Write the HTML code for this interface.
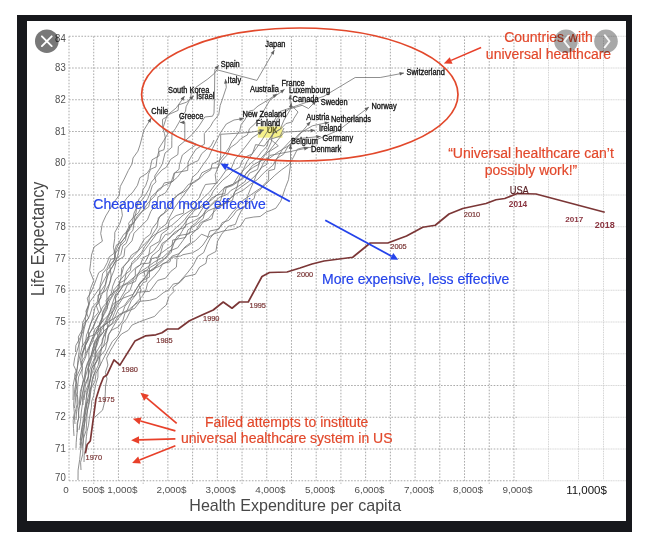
<!DOCTYPE html>
<html><head><meta charset="utf-8"><title>chart</title>
<style>
html,body{margin:0;padding:0;background:#fff;}
body{width:648px;height:545px;overflow:hidden;position:relative;font-family:"Liberation Sans",sans-serif;}
#frame{position:absolute;left:17px;top:15px;width:615px;height:517px;background:#17181c;}
#inner{position:absolute;left:27px;top:21px;width:599px;height:499.5px;background:#fff;}
svg{position:absolute;left:0;top:0;}
#wrap{position:absolute;left:0;top:0;width:648px;height:545px;filter:blur(0.35px);}
</style></head><body>
<div id="wrap"><div id="frame"></div><div id="inner"></div>
<svg width="648" height="545" viewBox="0 0 648 545">
<g stroke="#a9a9a9" stroke-width="1.0" stroke-dasharray="1.6 1.5" fill="none"><line x1="69.0" y1="36.25" x2="517.5" y2="36.25"/><line x1="69.0" y1="68.00" x2="517.5" y2="68.00"/><line x1="69.0" y1="99.75" x2="517.5" y2="99.75"/><line x1="69.0" y1="131.50" x2="517.5" y2="131.50"/><line x1="69.0" y1="163.25" x2="517.5" y2="163.25"/><line x1="69.0" y1="195.00" x2="517.5" y2="195.00"/><line x1="69.0" y1="226.75" x2="517.5" y2="226.75"/><line x1="69.0" y1="258.50" x2="517.5" y2="258.50"/><line x1="69.0" y1="290.25" x2="517.5" y2="290.25"/><line x1="69.0" y1="322.00" x2="517.5" y2="322.00"/><line x1="69.0" y1="353.75" x2="517.5" y2="353.75"/><line x1="69.0" y1="385.50" x2="517.5" y2="385.50"/><line x1="69.0" y1="417.25" x2="517.5" y2="417.25"/><line x1="69.0" y1="449.00" x2="517.5" y2="449.00"/><line x1="69.0" y1="480.75" x2="517.5" y2="480.75"/><line x1="69.00" y1="36.25" x2="69.00" y2="480.75"/><line x1="93.72" y1="36.25" x2="93.72" y2="483.75"/><line x1="118.44" y1="36.25" x2="118.44" y2="480.75"/><line x1="143.16" y1="36.25" x2="143.16" y2="483.75"/><line x1="167.88" y1="36.25" x2="167.88" y2="480.75"/><line x1="192.60" y1="36.25" x2="192.60" y2="483.75"/><line x1="217.32" y1="36.25" x2="217.32" y2="480.75"/><line x1="242.04" y1="36.25" x2="242.04" y2="483.75"/><line x1="266.76" y1="36.25" x2="266.76" y2="480.75"/><line x1="291.48" y1="36.25" x2="291.48" y2="483.75"/><line x1="316.20" y1="36.25" x2="316.20" y2="480.75"/><line x1="340.92" y1="36.25" x2="340.92" y2="483.75"/><line x1="365.64" y1="36.25" x2="365.64" y2="480.75"/><line x1="390.36" y1="36.25" x2="390.36" y2="483.75"/><line x1="415.08" y1="36.25" x2="415.08" y2="480.75"/><line x1="439.80" y1="36.25" x2="439.80" y2="483.75"/><line x1="464.52" y1="36.25" x2="464.52" y2="480.75"/><line x1="489.24" y1="36.25" x2="489.24" y2="483.75"/><line x1="513.96" y1="36.25" x2="513.96" y2="480.75"/></g>
<g stroke="#cfcfcf" stroke-width="0.8" stroke-dasharray="1.2 0.5" fill="none"><line x1="517.5" y1="36.25" x2="626" y2="36.25"/><line x1="517.5" y1="68.00" x2="626" y2="68.00"/><line x1="517.5" y1="99.75" x2="626" y2="99.75"/><line x1="517.5" y1="131.50" x2="626" y2="131.50"/><line x1="517.5" y1="163.25" x2="626" y2="163.25"/><line x1="517.5" y1="195.00" x2="626" y2="195.00"/><line x1="517.5" y1="226.75" x2="626" y2="226.75"/><line x1="517.5" y1="258.50" x2="626" y2="258.50"/><line x1="517.5" y1="290.25" x2="626" y2="290.25"/><line x1="517.5" y1="322.00" x2="626" y2="322.00"/><line x1="517.5" y1="353.75" x2="626" y2="353.75"/><line x1="517.5" y1="385.50" x2="626" y2="385.50"/><line x1="517.5" y1="417.25" x2="626" y2="417.25"/><line x1="517.5" y1="449.00" x2="626" y2="449.00"/><line x1="517.5" y1="480.75" x2="626" y2="480.75"/></g>
<g stroke="#c2c2c2" stroke-width="0.8" stroke-dasharray="0.9 0.8" fill="none"><line x1="548.5" y1="36.25" x2="548.5" y2="480"/><line x1="578.5" y1="36.25" x2="578.5" y2="480"/><line x1="603.5" y1="36.25" x2="603.5" y2="480"/></g>
<text transform="translate(65.7,480.55) scale(0.94,1)" text-anchor="end" font-size="10.2" fill="#505050" font-family="Liberation Sans, sans-serif">70</text>
<text transform="translate(65.7,452.00) scale(0.94,1)" text-anchor="end" font-size="10.2" fill="#505050" font-family="Liberation Sans, sans-serif">71</text>
<text transform="translate(65.7,420.25) scale(0.94,1)" text-anchor="end" font-size="10.2" fill="#505050" font-family="Liberation Sans, sans-serif">72</text>
<text transform="translate(65.7,388.50) scale(0.94,1)" text-anchor="end" font-size="10.2" fill="#505050" font-family="Liberation Sans, sans-serif">73</text>
<text transform="translate(65.7,356.75) scale(0.94,1)" text-anchor="end" font-size="10.2" fill="#505050" font-family="Liberation Sans, sans-serif">74</text>
<text transform="translate(65.7,325.00) scale(0.94,1)" text-anchor="end" font-size="10.2" fill="#505050" font-family="Liberation Sans, sans-serif">75</text>
<text transform="translate(65.7,293.25) scale(0.94,1)" text-anchor="end" font-size="10.2" fill="#505050" font-family="Liberation Sans, sans-serif">76</text>
<text transform="translate(65.7,261.50) scale(0.94,1)" text-anchor="end" font-size="10.2" fill="#505050" font-family="Liberation Sans, sans-serif">77</text>
<text transform="translate(65.7,229.75) scale(0.94,1)" text-anchor="end" font-size="10.2" fill="#505050" font-family="Liberation Sans, sans-serif">78</text>
<text transform="translate(65.7,198.00) scale(0.94,1)" text-anchor="end" font-size="10.2" fill="#505050" font-family="Liberation Sans, sans-serif">79</text>
<text transform="translate(65.7,166.25) scale(0.94,1)" text-anchor="end" font-size="10.2" fill="#505050" font-family="Liberation Sans, sans-serif">80</text>
<text transform="translate(65.7,134.50) scale(0.94,1)" text-anchor="end" font-size="10.2" fill="#505050" font-family="Liberation Sans, sans-serif">81</text>
<text transform="translate(65.7,102.75) scale(0.94,1)" text-anchor="end" font-size="10.2" fill="#505050" font-family="Liberation Sans, sans-serif">82</text>
<text transform="translate(65.7,71.00) scale(0.94,1)" text-anchor="end" font-size="10.2" fill="#505050" font-family="Liberation Sans, sans-serif">83</text>
<text transform="translate(65.7,41.55) scale(0.94,1)" text-anchor="end" font-size="10.2" fill="#505050" font-family="Liberation Sans, sans-serif">84</text>
<text x="66" y="492.9" text-anchor="middle" font-size="9.9" fill="#505050" font-family="Liberation Sans, sans-serif">0</text>
<text x="93.6" y="492.9" text-anchor="middle" font-size="9.9" fill="#505050" font-family="Liberation Sans, sans-serif">500$</text>
<text x="122.3" y="492.9" text-anchor="middle" font-size="9.9" fill="#505050" font-family="Liberation Sans, sans-serif">1,000$</text>
<text x="171.5" y="492.9" text-anchor="middle" font-size="9.9" fill="#505050" font-family="Liberation Sans, sans-serif">2,000$</text>
<text x="220.6" y="492.9" text-anchor="middle" font-size="9.9" fill="#505050" font-family="Liberation Sans, sans-serif">3,000$</text>
<text x="270.4" y="492.9" text-anchor="middle" font-size="9.9" fill="#505050" font-family="Liberation Sans, sans-serif">4,000$</text>
<text x="320" y="492.9" text-anchor="middle" font-size="9.9" fill="#505050" font-family="Liberation Sans, sans-serif">5,000$</text>
<text x="369.5" y="492.9" text-anchor="middle" font-size="9.9" fill="#505050" font-family="Liberation Sans, sans-serif">6,000$</text>
<text x="419" y="492.9" text-anchor="middle" font-size="9.9" fill="#505050" font-family="Liberation Sans, sans-serif">7,000$</text>
<text x="468" y="492.9" text-anchor="middle" font-size="9.9" fill="#505050" font-family="Liberation Sans, sans-serif">8,000$</text>
<text x="517.5" y="492.9" text-anchor="middle" font-size="9.9" fill="#505050" font-family="Liberation Sans, sans-serif">9,000$</text>
<text x="586.5" y="494" text-anchor="middle" font-size="11.5" fill="#111" font-family="Liberation Sans, sans-serif">11,000$</text>
<text x="189.3" y="510.7" font-size="17" textLength="211.8" lengthAdjust="spacingAndGlyphs" fill="#484848" font-family="Liberation Sans, sans-serif">Health Expenditure per capita</text>
<text transform="translate(44.4,295.9) rotate(-90)" font-size="17.9" textLength="114.3" lengthAdjust="spacingAndGlyphs" fill="#484848" font-family="Liberation Sans, sans-serif">Life Expectancy</text>
<rect x="257.8" y="126.5" width="24.6" height="11.2" fill="#f5f08a"/>
<g fill="none" stroke="#727272" stroke-width="0.8" stroke-linejoin="round"><polyline points="75.5,352.0 75.8,345.5 80.0,338.0 83.2,330.8 83.0,324.5 88.6,318.2 85.9,311.3 89.1,303.4 89.1,296.2 90.5,288.6 93.7,280.6 89.7,270.5 90.6,263.3 91.5,255.0 94.0,247.1 102.4,241.2 100.7,233.5 102.4,223.4 105.8,215.9 109.5,209.8 113.8,202.4 119.2,195.3 120.3,186.4 124.2,179.1 128.3,170.5 132.1,163.8 133.0,158.0 137.9,151.2 140.0,145.0 143.9,130.0 151.3,118.0"/><polyline points="78.0,480.0 78.1,470.1 79.7,459.5 80.7,449.7 81.7,441.6 82.5,433.3 84.4,425.5 84.3,416.4 85.8,408.8 87.1,401.5 89.4,392.6 89.2,384.8 90.4,377.4 91.8,368.5 94.5,360.2 95.2,351.5 96.6,341.7 101.2,333.1 99.4,322.9 104.3,314.3 107.6,308.1 106.9,297.9 106.9,292.8 110.7,280.1 111.1,275.3 109.7,265.2 115.7,257.8 113.4,247.2 114.7,238.6 114.8,232.4 120.0,223.0 122.4,215.4 121.1,206.4 126.8,198.1 132.9,192.0 137.4,185.4 139.9,177.7 147.1,173.2 150.0,169.0 152.0,159.8 159.1,155.8 158.7,148.7 163.6,140.8 168.0,133.4 163.0,127.9 167.0,115.5 176.3,107.8 184.6,96.1"/><polyline points="76.0,448.0 76.2,442.4 76.7,436.1 77.4,430.1 77.2,422.8 78.9,417.4 78.2,410.2 80.1,404.6 80.0,398.0 80.3,391.5 82.3,384.8 83.3,379.6 82.0,374.2 82.3,368.8 81.3,362.0 84.8,356.8 85.6,351.5 85.5,345.1 87.9,340.2 88.6,334.3 93.3,327.9 95.3,320.9 98.2,315.5 101.3,310.7 98.5,301.5 101.7,294.9 104.4,289.0 105.4,285.7 107.2,277.8 106.7,270.5 112.0,263.7 114.4,260.2 114.6,254.8 119.5,247.0 121.4,241.8 126.1,236.3 126.1,232.2 129.7,225.1 134.0,223.1 134.7,217.0 136.2,211.9 136.3,207.1 139.1,198.8 142.0,195.8 142.9,189.7 145.7,185.6 147.9,179.3 148.4,174.4 150.5,169.3 156.0,166.8 157.0,158.5 158.7,151.7 164.0,149.7 164.8,144.9 165.2,137.3 164.5,133.6 162.7,127.7 162.5,119.3 166.7,117.0 169.0,114.4 178.1,110.4 178.6,104.9 186.3,102.3 193.9,95.7"/><polyline points="73.0,400.0 73.2,393.1 73.1,385.4 74.7,377.5 76.8,372.1 73.6,365.2 74.8,357.3 76.6,352.4 79.1,344.2 78.3,336.9 82.5,329.5 85.7,322.8 89.5,316.2 92.4,307.0 97.3,302.0 98.4,295.0 105.1,291.3 109.3,284.0 111.1,277.5 114.1,270.3 115.8,263.5 116.3,259.3 120.8,254.6 122.8,245.8 126.2,243.4 129.9,233.7 133.0,230.1 134.1,222.5 137.0,216.2 142.2,211.4 148.7,206.8 150.9,197.2 155.4,193.0 161.0,188.8 164.3,182.9 172.9,181.4 174.5,173.1 179.0,169.3 179.5,164.6 182.3,155.1 189.3,149.5 196.6,144.4 190.0,141.0 184.8,140.9 184.8,122.4 180.0,122.4"/><polyline points="74.5,408.0 75.5,400.1 75.8,392.5 76.0,384.8 76.3,376.7 77.3,368.1 77.9,360.2 79.2,351.3 79.0,344.5 81.1,337.2 82.0,329.3 82.9,322.3 87.1,312.9 89.7,302.1 96.1,293.1 99.8,287.9 104.8,278.7 108.8,271.8 113.6,265.1 117.5,256.4 119.9,246.4 125.5,240.2 126.6,232.2 132.2,223.5 134.0,213.1 138.3,204.4 144.5,196.6 148.6,189.7 151.4,182.2 156.6,175.9 161.9,170.0 166.4,167.2 170.7,159.3 177.9,154.5 178.4,146.4 184.6,141.2 192.8,133.9 199.2,125.8 204.8,117.0 212.5,116.2 214.0,113.1 214.5,93.0 214.8,69.8 218.9,65.2"/><polyline points="76.0,420.0 76.6,411.2 78.1,402.9 77.4,394.4 77.8,385.2 78.6,376.9 82.3,368.7 82.0,358.8 83.0,353.0 85.6,345.2 89.2,338.4 88.2,330.6 91.1,323.0 93.2,315.6 95.0,307.3 99.4,302.2 98.1,295.5 105.3,284.4 106.5,278.9 110.0,270.9 114.9,262.1 124.0,256.4 124.9,248.6 132.0,240.8 134.0,233.2 141.9,225.3 147.4,219.8 150.9,211.3 157.3,202.5 157.9,196.9 165.4,192.9 169.5,186.4 171.9,179.9 174.2,173.0 187.7,170.4 188.2,162.1 191.6,155.9 196.1,149.1 204.4,144.2 204.3,133.5 210.3,126.7 213.1,121.7 218.7,114.7 220.2,105.4 222.0,100.4 226.3,87.4 225.4,79.1"/><polyline points="75.0,424.0 74.4,417.0 75.4,411.1 77.0,404.6 77.1,397.7 75.6,391.3 77.1,385.1 75.7,378.7 78.3,373.0 81.3,366.6 80.4,360.2 81.7,354.3 84.6,347.7 85.7,341.7 86.5,334.9 89.1,329.2 90.5,323.5 93.5,318.3 98.6,312.0 96.2,305.2 101.0,297.6 99.5,293.3 100.3,284.4 101.5,280.2 102.7,273.4 107.0,268.3 110.9,259.1 114.6,258.7 115.7,251.0 118.3,244.3 120.3,240.0 123.7,234.4 130.0,229.7 128.6,223.3 133.4,217.2 138.5,212.7 140.0,209.6 145.3,202.7 147.8,198.6 150.3,192.3 152.4,185.3 156.0,181.9 154.6,176.2 160.8,166.7 162.5,163.3 165.0,153.1 171.8,147.3 171.8,140.5 172.0,133.4 175.4,128.6 178.7,122.9 182.5,115.6 185.5,111.3 186.1,106.7 190.1,98.8 191.8,91.5 195.7,87.4 207.8,79.0 214.3,73.5 217.0,69.8 256.9,80.4 274.4,50.0"/><polyline points="80.0,440.0 81.4,432.5 82.5,424.4 84.6,417.3 84.8,410.3 85.5,404.0 86.3,397.5 87.8,391.0 88.7,385.3 90.5,378.8 92.6,371.4 94.5,365.7 97.5,359.1 98.1,352.7 103.6,346.3 105.3,338.6 105.9,330.7 109.5,323.4 110.1,317.7 113.9,309.4 115.5,301.7 115.1,295.1 119.6,287.3 119.8,280.9 124.7,274.7 130.4,270.5 131.7,262.5 136.1,258.2 141.7,252.3 144.8,246.4 149.2,240.4 152.7,234.1 157.5,226.8 158.3,217.8 163.9,213.7 167.8,206.5 171.0,203.2 177.2,195.6 183.3,190.9 188.5,184.4 194.5,182.4 200.8,177.7 204.2,173.8 210.8,169.8 212.0,164.1 219.5,160.6 224.4,154.3 229.2,147.4 231.8,141.7 236.1,136.2 239.7,130.7 241.1,124.6 244.8,119.9 249.3,111.0 253.3,110.2 258.0,106.0 268.0,100.0 277.2,93.9"/><polyline points="83.0,405.0 83.2,398.3 84.7,390.4 85.4,385.2 88.6,376.9 88.5,367.5 90.9,361.1 93.5,351.8 95.1,343.8 98.4,337.9 96.4,330.4 102.9,320.7 108.6,314.9 113.7,310.5 116.3,305.3 121.1,297.4 124.2,292.1 127.5,284.6 135.4,281.5 137.6,274.9 140.8,268.7 145.4,261.6 148.7,255.3 150.3,246.7 159.5,241.3 161.5,234.0 167.7,229.6 169.3,220.8 176.1,215.6 183.5,213.2 184.0,203.6 192.5,204.3 199.1,198.1 201.7,191.7 205.4,184.5 216.3,183.3 215.2,174.7 217.8,167.8 222.1,160.4 226.7,155.5 230.2,147.8 236.7,143.2 240.8,138.7 247.4,134.9 249.5,128.7 254.9,123.8 261.0,116.5 263.7,110.7 270.0,100.0 284.6,89.3"/><polyline points="80.0,448.0 80.9,441.7 82.4,435.8 82.4,429.3 84.0,423.7 84.7,416.8 86.1,410.6 86.9,403.9 89.4,398.0 89.4,391.7 91.7,385.1 92.4,377.9 95.1,371.7 94.7,365.0 98.0,359.4 100.1,351.5 101.8,346.7 102.3,339.0 105.9,333.2 107.6,328.0 107.0,322.2 112.0,314.3 112.0,309.8 116.0,304.2 115.5,298.1 119.8,290.3 123.8,285.4 131.8,281.2 135.3,275.4 135.4,268.9 141.1,264.0 149.2,263.1 152.0,255.8 159.5,249.7 162.2,243.3 166.8,240.3 170.3,237.8 174.1,232.6 179.6,229.3 185.6,227.1 186.3,220.3 189.6,216.2 194.9,210.1 199.4,207.5 205.4,201.7 210.4,196.8 213.4,190.9 218.1,185.2 222.7,180.2 228.4,175.7 233.1,170.7 239.7,167.3 242.6,160.1 246.7,156.4 252.4,153.9 255.6,144.6 264.2,146.1 270.1,137.9 274.0,132.7 280.5,129.2 285.9,123.6 292.4,121.9 293.8,118.5 298.0,112.0 290.2,104.0 290.2,94.8"/><polyline points="84.0,400.0 85.0,392.4 88.1,385.0 88.0,377.5 89.9,369.5 92.4,362.3 96.4,356.4 95.6,348.3 97.8,338.9 103.6,332.3 103.6,325.9 111.9,319.5 114.6,312.6 117.1,306.8 121.5,300.1 124.9,294.2 129.8,290.9 133.6,280.2 139.3,274.2 148.0,269.4 151.6,258.7 159.7,256.6 162.9,244.8 170.7,236.3 176.6,232.5 182.8,226.0 188.9,217.4 197.6,216.1 204.9,204.9 212.8,198.8 218.5,193.7 224.5,187.8 233.3,184.1 238.4,175.8 243.2,170.3 250.9,163.2 257.5,157.4 261.4,152.1 267.2,146.0 268.5,140.7 274.2,132.8 280.3,129.0 284.0,120.0 290.0,110.0 291.5,103.0"/><polyline points="82.0,355.0 84.1,346.9 87.6,339.9 89.5,333.8 93.1,326.6 95.9,321.6 98.4,315.3 102.6,307.2 108.2,300.9 111.5,296.5 114.4,289.3 119.7,283.0 125.7,279.7 129.9,273.5 136.4,267.0 140.2,265.2 143.0,257.8 147.7,255.4 153.3,251.4 157.1,246.4 161.0,240.9 165.3,234.5 170.1,233.6 176.5,227.3 181.5,223.1 185.1,219.1 188.4,214.6 193.0,209.9 201.2,207.3 207.4,204.5 211.1,198.4 217.9,194.7 224.9,193.7 226.1,187.8 232.6,185.5 238.9,181.1 244.0,177.7 246.5,172.5 253.2,167.4 258.6,164.4 260.7,158.6 265.1,153.7 267.4,150.5 271.3,141.9 272.4,134.0 276.3,128.2 276.7,119.9 282.0,114.0 289.3,109.1 302.1,105.3 308.5,108.5 316.2,100.8"/><polyline points="80.0,405.0 82.1,394.8 84.5,384.8 88.3,376.8 88.2,369.1 90.4,359.9 92.0,352.1 94.7,341.6 100.0,332.2 105.5,323.7 109.2,315.1 111.5,306.2 114.8,296.3 120.1,290.9 124.2,282.6 126.4,271.7 131.6,264.6 138.1,258.6 143.6,251.5 148.7,244.6 154.4,237.0 159.1,229.3 166.1,224.2 170.0,216.2 174.6,207.7 178.9,201.5 184.5,194.0 189.8,186.7 192.5,177.3 197.7,172.7 202.9,164.9 208.6,157.1 212.5,148.6 216.8,140.1 220.7,132.4 226.3,124.0 234.0,120.0 243.9,118.5"/><polyline points="77.0,432.0 77.3,425.5 78.4,419.2 78.7,412.8 79.2,406.1 79.7,400.0 81.0,392.7 82.3,385.5 84.3,377.4 85.6,369.4 87.5,362.4 91.1,355.9 93.1,347.6 95.6,340.8 99.5,334.5 98.2,327.1 103.1,320.5 102.0,314.0 107.0,305.5 106.0,300.6 111.2,293.6 112.7,286.2 115.7,278.9 121.6,274.3 123.8,266.6 128.0,261.3 131.4,255.1 138.0,250.7 140.9,245.1 144.6,238.7 150.5,234.1 152.0,228.8 157.0,222.5 160.6,215.3 166.4,211.6 170.6,206.3 172.1,199.7 178.2,194.5 184.0,191.9 188.4,188.4 193.6,181.7 199.0,178.6 201.9,172.8 211.9,168.0 218.0,168.0 220.7,155.6 220.7,134.3 250.0,132.4 264.0,130.0"/><polyline points="79.0,430.0 80.5,421.3 81.3,412.1 82.6,402.8 82.8,393.6 84.0,385.0 85.2,376.3 85.9,368.5 89.0,360.2 88.9,351.2 90.3,343.6 92.9,336.6 94.9,329.3 101.1,322.6 103.0,311.1 107.3,302.8 109.4,296.3 117.6,288.9 121.0,277.8 121.7,268.2 128.7,260.8 134.0,255.7 141.7,247.0 147.9,240.6 154.1,235.0 162.5,230.2 171.6,225.5 178.3,219.8 183.1,215.0 193.4,208.7 197.6,203.6 204.9,196.4 209.4,192.3 214.7,185.1 220.2,178.7 226.2,170.0 231.2,168.8 234.8,159.6 239.7,153.9 246.0,146.0 252.0,138.0 262.5,131.0"/><polyline points="81.0,470.0 80.6,462.3 82.8,454.1 83.0,446.3 83.6,438.2 86.1,430.5 86.7,421.9 87.1,413.9 88.1,405.4 89.7,398.0 90.5,389.8 92.1,381.2 95.0,372.4 98.1,365.5 100.2,355.1 101.8,348.3 107.7,341.2 109.0,333.8 113.4,326.2 117.8,319.1 122.2,313.8 124.9,306.3 129.9,300.3 134.2,292.4 139.0,284.7 145.9,276.2 151.0,270.0 158.3,264.9 164.4,259.3 171.4,252.1 172.7,240.1 185.3,237.5 188.0,229.8 195.0,225.5 203.2,218.5 205.4,210.2 214.7,201.0 220.4,201.2 224.5,187.4 232.2,184.7 240.5,179.2 246.8,173.3 252.6,165.3 260.0,161.0 269.5,158.2 278.0,152.0 291.8,143.8 310.5,121.6"/><polyline points="82.0,365.0 85.1,358.4 87.9,350.4 92.3,342.3 95.1,333.5 100.2,323.9 103.7,313.7 107.6,306.2 110.0,300.2 115.2,291.8 121.2,286.3 127.7,282.5 134.5,276.8 140.4,271.8 147.2,267.3 154.5,261.9 163.0,257.3 169.6,251.0 177.6,247.8 183.1,240.3 187.8,233.5 198.0,229.1 203.1,222.1 211.9,218.7 214.3,208.7 222.7,205.2 228.2,200.0 236.2,193.6 243.1,190.2 250.6,184.2 257.4,179.6 264.4,172.3 272.8,165.4 276.5,158.7 283.6,154.2 288.0,146.4 299.5,133.5 312.4,125.8 329.1,122.2"/><polyline points="80.0,445.0 80.7,437.8 81.3,431.1 82.7,424.0 83.4,417.1 84.7,409.1 87.0,401.1 86.4,392.4 89.3,385.2 90.5,378.5 91.5,368.7 96.3,361.4 95.1,354.1 98.6,348.4 102.5,341.8 103.9,335.0 107.5,327.8 112.0,323.2 116.1,314.6 118.4,309.3 124.4,305.6 129.3,298.6 135.5,295.3 137.8,290.5 143.2,282.7 146.6,281.4 147.4,272.2 154.4,269.2 158.3,262.7 163.9,259.1 167.6,255.3 172.4,247.7 175.2,239.4 177.8,235.7 189.3,233.8 191.7,225.8 195.6,223.3 201.8,216.0 205.2,211.4 210.6,206.0 214.7,202.2 219.2,197.4 227.2,194.4 230.8,190.5 238.0,186.5 244.7,182.0 249.5,173.1 257.5,169.4 259.7,162.4 265.3,154.7 270.0,150.0 284.1,132.2 315.0,130.3"/><polyline points="84.0,462.0 84.2,455.4 85.4,449.3 85.8,442.9 86.4,436.7 87.0,431.4 88.5,425.2 89.2,419.6 90.3,413.3 91.4,407.4 91.7,401.2 93.8,395.3 94.6,390.2 96.1,383.3 97.9,377.2 98.0,369.9 100.1,364.8 99.7,356.8 105.3,349.9 106.9,343.2 108.1,335.3 111.6,330.2 118.3,326.9 122.9,320.4 124.8,313.7 129.6,308.9 133.3,305.9 140.6,300.5 139.6,294.6 140.9,289.6 138.7,285.0 145.3,277.5 143.9,271.0 151.8,270.7 154.7,268.2 159.8,266.1 162.9,263.5 169.9,261.8 171.3,257.4 180.6,256.0 183.0,254.7 192.5,252.8 198.7,249.2 203.0,245.0 207.4,238.2 209.8,231.0 218.9,229.1 222.2,222.6 228.8,220.3 233.0,215.8 236.7,210.5 242.4,208.1 247.8,202.9 254.2,198.5 255.2,193.3 260.5,189.5 263.9,184.6 268.6,179.9 268.7,170.7 274.5,169.3 276.0,160.0 282.8,148.9 291.8,139.3 320.7,136.4"/><polyline points="82.0,448.0 83.2,440.3 83.8,431.9 84.4,425.0 86.1,417.0 87.6,409.6 89.5,402.2 90.3,394.8 91.4,388.0 95.1,381.0 96.0,373.3 99.6,366.5 102.6,360.2 106.0,353.5 109.1,347.7 112.3,341.5 117.5,336.5 120.5,330.7 122.1,324.3 126.6,318.7 129.6,312.6 132.8,306.8 136.9,301.9 142.4,296.1 145.9,290.0 147.6,283.2 154.4,275.9 159.3,269.9 162.3,264.5 168.5,260.7 172.1,256.1 178.9,253.7 183.6,248.8 188.8,245.3 195.3,240.6 201.5,234.2 208.6,237.1 214.1,233.8 223.3,231.0 227.5,230.3 235.0,228.8 240.5,226.0 245.3,218.5 253.8,217.0 260.2,216.5 266.1,212.1 271.5,210.1 275.9,208.2 280.8,201.1 283.0,194.6 285.5,187.4 288.5,179.7 290.5,165.0 290.5,144.4"/><polyline points="95.0,417.0 102.6,410.1 104.6,401.9 105.3,393.1 105.5,386.1 107.0,378.8 105.4,372.5 107.9,365.0 106.6,358.2 110.0,351.3 112.7,346.7 116.8,339.9 121.5,334.0 128.2,330.4 132.1,325.0 139.5,321.8 147.1,319.0 154.6,316.4 160.4,310.0 166.3,305.0 168.9,296.7 174.0,291.4 172.7,287.7 180.5,281.8 185.2,276.7 195.3,274.3 199.6,267.1 205.9,263.4 207.5,255.9 215.9,251.5 217.5,241.4 221.6,234.2 228.1,226.4 235.4,224.4 238.1,217.1 241.5,210.3 246.6,204.7 247.3,196.6 250.2,189.6 254.1,180.9 256.2,175.1 260.1,169.8 264.0,162.0 270.0,155.4 290.5,151.5 308.5,147.7"/><polyline points="84.0,382.0 85.9,375.1 88.1,367.2 89.3,359.9 92.9,352.1 97.1,345.1 99.3,337.4 104.2,330.7 109.3,326.2 114.6,322.2 119.0,314.5 127.0,310.5 131.3,300.7 137.9,292.2 149.6,291.4 157.7,280.4 165.5,278.2 170.8,271.4 176.4,267.1 177.1,256.4 184.9,247.0 190.5,242.7 190.4,235.6 196.3,229.9 200.3,222.9 208.5,218.5 213.6,212.3 219.0,206.2 227.7,201.5 233.3,195.0 236.7,188.3 239.5,177.7 243.3,169.7 246.9,161.8 251.8,154.3 256.3,148.2 262.0,140.0 280.0,111.5 324.0,96.2 355.2,77.5 380.2,77.5 404.0,73.0"/><polyline points="82.0,347.0 87.9,337.0 93.9,335.0 98.1,329.9 103.0,325.9 109.7,321.2 118.4,315.6 125.8,311.7 134.5,308.5 140.2,301.3 149.4,300.4 156.1,298.5 163.8,292.4 168.5,290.1 173.3,284.0 178.3,283.1 184.3,276.4 188.1,272.0 193.5,264.8 197.5,256.8 203.7,252.6 206.9,244.6 210.2,238.0 215.6,231.8 223.2,223.7 227.7,218.6 232.8,212.0 237.4,207.3 243.0,200.2 249.6,195.8 257.0,190.5 263.3,186.4 269.6,180.4 274.5,175.6 281.3,170.0 288.9,164.6 293.2,157.7 297.4,149.2 304.2,147.3 310.8,147.5 316.0,140.0 339.0,130.0 369.0,107.0"/><polyline points="74.0,436.0 73.5,428.5 73.2,420.4 74.3,412.7 73.6,404.9 74.2,397.6 74.7,389.5 76.0,382.8 74.6,374.3 77.2,368.5 78.2,362.8 79.9,356.0 81.1,351.0 82.6,344.4 82.7,337.5 83.9,330.0 85.2,324.9 85.5,318.1 86.5,311.3 88.8,304.9 87.3,298.2 90.6,293.0 93.6,286.3 96.1,279.8 98.7,272.7 103.7,269.3 107.3,262.5 109.2,256.9 113.7,253.6 116.5,244.9 121.9,241.8 127.0,234.4 128.7,229.8 132.9,223.5 138.6,216.2 144.2,208.7 148.1,202.7 154.7,196.2 157.7,189.8 164.4,185.5 171.6,182.2 177.4,177.2 181.3,172.0 186.8,166.5 193.4,162.6 198.1,160.7 201.7,153.7 206.1,149.8 210.9,146.1 214.0,140.0"/><polyline points="86.0,353.0 89.3,346.0 92.6,338.0 99.0,330.9 105.1,322.5 109.3,312.6 113.5,303.6 122.7,298.3 133.2,294.3 138.0,286.3 140.7,281.7 149.4,277.1 149.5,267.8 156.5,263.7 158.9,254.8 165.0,250.3 170.8,246.3 178.9,236.8 181.9,231.4 186.0,224.8 194.5,220.7 203.4,215.1 208.1,210.8 217.1,206.8 223.0,204.5 232.5,200.3 234.5,192.0 241.0,187.1 248.8,181.5 254.9,176.1 261.6,167.4 266.5,164.7 269.0,155.3 269.0,151.8 278.3,145.8 270.5,139.3 280.1,136.1 284.0,128.0"/></g><g fill="#606060" stroke="none"><polygon points="151.3,118.0 150.5,122.7 147.5,120.8"/><polygon points="184.6,96.1 183.5,100.7 180.6,98.6"/><polygon points="193.9,95.7 191.8,99.9 189.4,97.2"/><polygon points="180.0,122.4 184.4,120.6 184.4,124.2"/><polygon points="218.9,65.2 217.3,69.7 214.6,67.3"/><polygon points="225.4,79.1 227.7,83.3 224.1,83.7"/><polygon points="274.4,50.0 273.8,54.7 270.6,52.9"/><polygon points="277.2,93.9 274.5,97.8 272.5,94.8"/><polygon points="284.6,89.3 282.1,93.4 280.0,90.4"/><polygon points="290.2,94.8 292.0,99.2 288.4,99.2"/><polygon points="291.5,103.0 292.3,107.7 288.8,106.9"/><polygon points="316.2,100.8 314.4,105.2 311.8,102.6"/><polygon points="243.9,118.5 239.8,120.9 239.3,117.4"/><polygon points="264.0,130.0 260.0,132.5 259.4,129.0"/><polygon points="262.5,131.0 259.8,134.9 257.8,131.9"/><polygon points="310.5,121.6 309.0,126.1 306.3,123.8"/><polygon points="329.1,122.2 325.2,124.9 324.4,121.4"/><polygon points="315.0,130.3 310.7,132.4 310.5,128.8"/><polygon points="320.7,136.4 316.5,138.6 316.1,135.0"/><polygon points="290.5,144.4 292.3,148.8 288.7,148.8"/><polygon points="308.5,147.7 304.6,150.4 303.8,146.8"/><polygon points="404.0,73.0 400.0,75.6 399.3,72.1"/><polygon points="369.0,107.0 366.6,111.1 364.4,108.2"/></g>
<polyline fill="none" stroke="#7b3636" stroke-width="1.7" stroke-linejoin="round" points="85.4,453.3 87.2,444.5 90.3,441 95.9,399.3 100,386 103.5,377.3 107,374.9 114,359.9 119.9,365.1 134.9,341.1 145.3,335.9 155.8,334.8 162,332.75 167.5,329 178.25,329 189.5,320.75 202,315 213.25,310 223.25,302 232,308.25 239.5,302 248.25,302 262,276.5 269.5,272.5 287,272 300,268 312,264 324,261 352.75,257.25 370.25,243 387.75,243 406.5,236 422.75,227.25 435.25,225.25 449,214 462.75,208.5 486,203.5 496,199.75 504.75,198.5 517.25,193.5 536,194 604.75,212.25"/>
<text x="93.8" y="460.0" text-anchor="middle" font-size="7.4" fill="#7b3636" stroke="#7b3636" stroke-width="0.2" font-family="Liberation Sans, sans-serif">1970</text>
<text x="106.3" y="401.90000000000003" text-anchor="middle" font-size="7.4" fill="#7b3636" stroke="#7b3636" stroke-width="0.2" font-family="Liberation Sans, sans-serif">1975</text>
<text x="129.7" y="372.3" text-anchor="middle" font-size="7.4" fill="#7b3636" stroke="#7b3636" stroke-width="0.2" font-family="Liberation Sans, sans-serif">1980</text>
<text x="164.5" y="343.40000000000003" text-anchor="middle" font-size="7.4" fill="#7b3636" stroke="#7b3636" stroke-width="0.2" font-family="Liberation Sans, sans-serif">1985</text>
<text x="211.25" y="320.85" text-anchor="middle" font-size="7.4" fill="#7b3636" stroke="#7b3636" stroke-width="0.2" font-family="Liberation Sans, sans-serif">1990</text>
<text x="257.75" y="307.85" text-anchor="middle" font-size="7.4" fill="#7b3636" stroke="#7b3636" stroke-width="0.2" font-family="Liberation Sans, sans-serif">1995</text>
<text x="305" y="277.1" text-anchor="middle" font-size="7.4" fill="#7b3636" stroke="#7b3636" stroke-width="0.2" font-family="Liberation Sans, sans-serif">2000</text>
<text x="398.5" y="249.35" text-anchor="middle" font-size="7.4" fill="#7b3636" stroke="#7b3636" stroke-width="0.2" font-family="Liberation Sans, sans-serif">2005</text>
<text x="472" y="216.6" text-anchor="middle" font-size="7.4" fill="#7b3636" stroke="#7b3636" stroke-width="0.2" font-family="Liberation Sans, sans-serif">2010</text>
<text x="518" y="207" text-anchor="middle" font-size="8.3" font-weight="bold" fill="#8a3540" font-family="Liberation Sans, sans-serif">2014</text>
<text x="574.25" y="221.5" text-anchor="middle" font-size="8.1" font-weight="bold" fill="#8a3540" font-family="Liberation Sans, sans-serif">2017</text>
<text x="604.75" y="227.75" text-anchor="middle" font-size="9" font-weight="bold" fill="#8a3540" font-family="Liberation Sans, sans-serif">2018</text>
<text transform="translate(519.25,193.6) scale(0.9,1)" text-anchor="middle" font-size="10.4" fill="#5a2226" stroke="#5a2226" stroke-width="0.15" font-family="Liberation Sans, sans-serif">USA</text>
<text transform="translate(220.7,66.8) scale(0.94,1.04)" font-size="7.9" fill="#111" stroke="#111" stroke-width="0.3" font-family="Liberation Sans, sans-serif">Spain</text>
<text transform="translate(227.6,82.9) scale(0.94,1.04)" font-size="7.9" fill="#111" stroke="#111" stroke-width="0.3" font-family="Liberation Sans, sans-serif">Italy</text>
<text transform="translate(168,93.10000000000001) scale(0.94,1.04)" font-size="7.9" fill="#111" stroke="#111" stroke-width="0.3" font-family="Liberation Sans, sans-serif">South Korea</text>
<text transform="translate(196.3,99.0) scale(0.94,1.04)" font-size="7.9" fill="#111" stroke="#111" stroke-width="0.3" font-family="Liberation Sans, sans-serif">Israel</text>
<text transform="translate(151.3,114.4) scale(0.94,1.04)" font-size="7.9" fill="#111" stroke="#111" stroke-width="0.3" font-family="Liberation Sans, sans-serif">Chile</text>
<text transform="translate(179,119.4) scale(0.94,1.04)" font-size="7.9" fill="#111" stroke="#111" stroke-width="0.3" font-family="Liberation Sans, sans-serif">Greece</text>
<text transform="translate(265.2,47.199999999999996) scale(0.94,1.04)" font-size="7.9" fill="#111" stroke="#111" stroke-width="0.3" font-family="Liberation Sans, sans-serif">Japan</text>
<text transform="translate(281.5,86.2) scale(0.94,1.04)" font-size="7.9" fill="#111" stroke="#111" stroke-width="0.3" font-family="Liberation Sans, sans-serif">France</text>
<text transform="translate(250,91.80000000000001) scale(0.94,1.04)" font-size="7.9" fill="#111" stroke="#111" stroke-width="0.3" font-family="Liberation Sans, sans-serif">Australia</text>
<text transform="translate(288.9,93.10000000000001) scale(0.94,1.04)" font-size="7.9" fill="#111" stroke="#111" stroke-width="0.3" font-family="Liberation Sans, sans-serif">Luxembourg</text>
<text transform="translate(292.6,102.30000000000001) scale(0.94,1.04)" font-size="7.9" fill="#111" stroke="#111" stroke-width="0.3" font-family="Liberation Sans, sans-serif">Canada</text>
<text transform="translate(320.7,104.80000000000001) scale(0.94,1.04)" font-size="7.9" fill="#111" stroke="#111" stroke-width="0.3" font-family="Liberation Sans, sans-serif">Sweden</text>
<text transform="translate(242.6,116.9) scale(0.94,1.04)" font-size="7.9" fill="#111" stroke="#111" stroke-width="0.3" font-family="Liberation Sans, sans-serif">New Zealand</text>
<text transform="translate(255.9,125.60000000000001) scale(0.94,1.04)" font-size="7.9" fill="#111" stroke="#111" stroke-width="0.3" font-family="Liberation Sans, sans-serif">Finland</text>
<text transform="translate(306.3,119.9) scale(0.94,1.04)" font-size="7.9" fill="#111" stroke="#111" stroke-width="0.3" font-family="Liberation Sans, sans-serif">Austria</text>
<text transform="translate(331,121.9) scale(0.94,1.04)" font-size="7.9" fill="#111" stroke="#111" stroke-width="0.3" font-family="Liberation Sans, sans-serif">Netherlands</text>
<text transform="translate(318.9,131.4) scale(0.94,1.04)" font-size="7.9" fill="#111" stroke="#111" stroke-width="0.3" font-family="Liberation Sans, sans-serif">Ireland</text>
<text transform="translate(322.6,141.4) scale(0.94,1.04)" font-size="7.9" fill="#111" stroke="#111" stroke-width="0.3" font-family="Liberation Sans, sans-serif">Germany</text>
<text transform="translate(291.1,144.0) scale(0.94,1.04)" font-size="7.9" fill="#111" stroke="#111" stroke-width="0.3" font-family="Liberation Sans, sans-serif">Belgium</text>
<text transform="translate(311.1,152.0) scale(0.94,1.04)" font-size="7.9" fill="#111" stroke="#111" stroke-width="0.3" font-family="Liberation Sans, sans-serif">Denmark</text>
<text transform="translate(406.5,74.9) scale(0.94,1.04)" font-size="7.9" fill="#111" stroke="#111" stroke-width="0.3" font-family="Liberation Sans, sans-serif">Switzerland</text>
<text transform="translate(371.5,109.15) scale(0.94,1.04)" font-size="7.9" fill="#111" stroke="#111" stroke-width="0.3" font-family="Liberation Sans, sans-serif">Norway</text>
<text transform="translate(267,132.5) scale(0.94,1.04)" font-size="7.9" fill="#4e4a18" stroke="#4e4a18" stroke-width="0.25" font-family="Liberation Sans, sans-serif">UK</text>
<ellipse cx="299.8" cy="94.5" rx="158.2" ry="66.5" fill="none" stroke="#e2482b" stroke-width="1.7"/>
<line x1="289.9" y1="201.5" x2="226.98" y2="167.19" stroke="#2443ea" stroke-width="1.9"/><polygon fill="#2443ea" points="220.40,163.60 228.71,164.03 225.26,170.35"/>
<line x1="325.25" y1="220.25" x2="391.61" y2="256.23" stroke="#2443ea" stroke-width="1.9"/><polygon fill="#2443ea" points="398.20,259.80 389.89,259.39 393.32,253.06"/>
<line x1="176.7" y1="423.3" x2="146.52" y2="397.95" stroke="#e8402a" stroke-width="1.7"/><polygon fill="#e8402a" points="140.40,392.80 148.91,395.11 144.14,400.78"/>
<line x1="175.4" y1="430.9" x2="140.50" y2="420.99" stroke="#e8402a" stroke-width="1.7"/><polygon fill="#e8402a" points="132.80,418.80 141.51,417.43 139.48,424.55"/>
<line x1="175.4" y1="438.8" x2="139.10" y2="439.95" stroke="#e8402a" stroke-width="1.7"/><polygon fill="#e8402a" points="131.10,440.20 138.98,436.25 139.21,443.65"/>
<line x1="175.4" y1="445.7" x2="139.53" y2="460.03" stroke="#e8402a" stroke-width="1.7"/><polygon fill="#e8402a" points="132.10,463.00 138.16,456.60 140.90,463.47"/>
<line x1="481.1" y1="47.5" x2="451.14" y2="60.43" stroke="#e8402a" stroke-width="1.5"/><polygon fill="#e8402a" points="443.80,63.60 449.76,57.22 452.53,63.64"/>
<text x="548.5" y="42" text-anchor="middle" font-size="14" fill="#e2482b" stroke="#e2482b" stroke-width="0.18" font-family="Liberation Sans, sans-serif">Countries with</text>
<text x="548.5" y="58.75" text-anchor="middle" font-size="14" fill="#e2482b" stroke="#e2482b" stroke-width="0.18" font-family="Liberation Sans, sans-serif">universal healthcare</text>
<text x="531" y="158" text-anchor="middle" font-size="14" fill="#e2482b" stroke="#e2482b" stroke-width="0.18" font-family="Liberation Sans, sans-serif">“Universal healthcare can’t</text>
<text x="531" y="174.75" text-anchor="middle" font-size="14" fill="#e2482b" stroke="#e2482b" stroke-width="0.18" font-family="Liberation Sans, sans-serif">possibly work!”</text>
<text x="286.7" y="426.7" text-anchor="middle" font-size="14" fill="#e2482b" stroke="#e2482b" stroke-width="0.18" font-family="Liberation Sans, sans-serif">Failed attempts to institute</text>
<text x="286.75" y="443" text-anchor="middle" font-size="14" fill="#e2482b" stroke="#e2482b" stroke-width="0.18" font-family="Liberation Sans, sans-serif">universal healthcare system in US</text>
<text x="93.3" y="208.5" font-size="14" fill="#2443ea" stroke="#2443ea" stroke-width="0.18" font-family="Liberation Sans, sans-serif">Cheaper and more effective</text>
<text x="322" y="284" font-size="14" fill="#2443ea" stroke="#2443ea" stroke-width="0.18" font-family="Liberation Sans, sans-serif">More expensive, less effective</text>
<circle cx="46.8" cy="41.2" r="11.8" fill="#000" fill-opacity="0.53"/>
<path d="M41.9 36.3 L51.7 46.1 M51.7 36.3 L41.9 46.1" stroke="#fff" stroke-width="1.9" fill="none" stroke-linecap="round"/>
<circle cx="566" cy="41.25" r="11.8" fill="#000" fill-opacity="0.34"/>
<circle cx="606" cy="41.25" r="11.8" fill="#000" fill-opacity="0.34"/>
<path d="M569 35.2 L564.2 41.25 L569 47.3" stroke="#fff" stroke-opacity="0.9" stroke-width="2" fill="none" stroke-linecap="round" stroke-linejoin="round"/>
<path d="M604.7 35.2 L609.5 41.25 L604.7 47.3" stroke="#fff" stroke-opacity="0.9" stroke-width="2" fill="none" stroke-linecap="round" stroke-linejoin="round"/>
</svg>
</div>
</body></html>
